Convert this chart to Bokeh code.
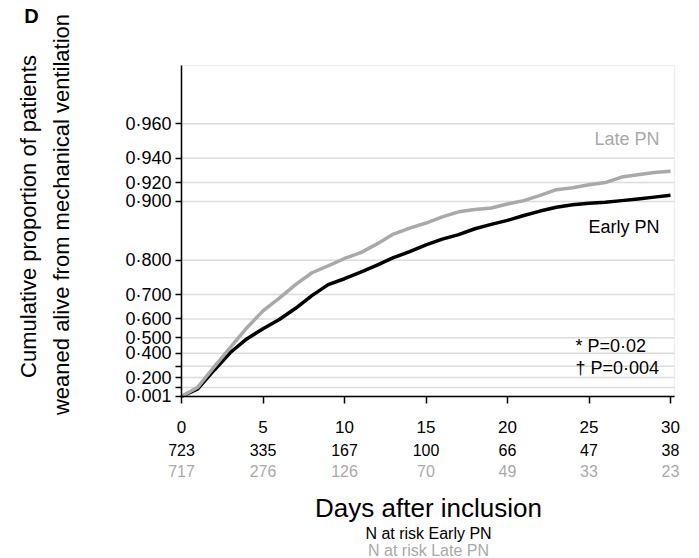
import numpy as np
from bokeh.plotting import figure
from bokeh.models import (FixedTicker, Label, LabelSet, ColumnDataSource, Range1d,
                          LinearAxis, BoxAnnotation)
from bokeh.core.properties import value
from bokeh.embed import file_html
from bokeh.resources import INLINE

# ---------------- data ----------------
days = list(range(31))
early_pn = [0.0, 0.086, 0.267, 0.405, 0.493, 0.551, 0.597, 0.647, 0.696, 0.733,
            0.751, 0.770, 0.788, 0.806, 0.819, 0.833, 0.844, 0.852, 0.862, 0.869,
            0.875, 0.882, 0.888, 0.893, 0.896, 0.898, 0.899, 0.901, 0.903, 0.905, 0.907]
late_pn = [0.0, 0.104, 0.295, 0.440, 0.555, 0.636, 0.687, 0.733, 0.768, 0.786,
           0.804, 0.817, 0.835, 0.853, 0.863, 0.871, 0.880, 0.887, 0.890, 0.892,
           0.897, 0.901, 0.907, 0.913, 0.915, 0.918, 0.920, 0.925, 0.927, 0.929, 0.930]
y_tick_props = [0.001, 0.1, 0.2, 0.3, 0.4, 0.5, 0.6, 0.7, 0.8, 0.9, 0.92, 0.94, 0.96]
y_tick_labels = ["0·001", "", "0·200", "", "0·400", "0·500", "0·600", "0·700",
                 "0·800", "0·900", "0·920", "0·940", "0·960"]
x_ticks = [0, 5, 10, 15, 20, 25, 30]
n_risk_early = [723, 335, 167, 100, 66, 47, 38]
n_risk_late = [717, 276, 126, 70, 49, 33, 23]

FONT = "Liberation Sans"
GREY = "#a9a9a9"
W, H = 699, 558

def tf(p):
    return -np.log(1.0 - np.asarray(p, dtype=float))

# plot-area geometry (pixels)
L, R, T, B = 181, 674, 65, 396
XPX = 16.3   # px per day
YPX = 84.7   # px per unit of -ln(1-p)
x_end = (R - L) / XPX
y_end = (B - T) / YPX

def dx(px):
    return (px - L) / XPX

def dy(py):
    return (B - py) / YPX

p = figure(width=W, height=H, output_backend="svg", toolbar_location=None,
           x_range=Range1d(dx(0), dx(W)), y_range=Range1d(dy(H), dy(0)),
           x_axis_type=None, y_axis_type=None,
           min_border=0, min_border_left=0, min_border_right=0,
           min_border_top=0, min_border_bottom=0)
p.background_fill_color = "white"
p.border_fill_color = "white"
p.outline_line_color = None

# plot-area outline (light grey top/right)
p.add_layout(BoxAnnotation(left=0, right=x_end, bottom=0, top=y_end,
                           fill_alpha=0, line_color="#c8c8c8", line_width=1.5,
                           level="underlay"))

yt = [float(v) for v in tf(y_tick_props)]

# horizontal grid lines at the y ticks
p.segment(x0=[0] * len(yt), x1=[x_end] * len(yt), y0=yt, y1=yt,
          line_color="#dcdcdc", line_width=1.5)

yaxis = LinearAxis(fixed_location=0, bounds=(0, y_end))
yaxis.ticker = FixedTicker(ticks=yt)
yaxis.major_label_overrides = {t: lab for t, lab in zip(yt, y_tick_labels)}
yaxis.major_label_text_font = FONT
yaxis.major_label_text_font_size = "18px"
yaxis.major_label_text_color = "black"
yaxis.major_tick_in = 0
yaxis.major_tick_out = 6
yaxis.minor_tick_line_color = None
yaxis.axis_line_width = 1.5
yaxis.major_tick_line_width = 1.5
yaxis.major_label_standoff = 4
p.add_layout(yaxis, "left")

xaxis = LinearAxis(fixed_location=0, bounds=(0, x_end))
xaxis.ticker = FixedTicker(ticks=x_ticks)
xaxis.major_label_text_font = FONT
xaxis.major_label_text_font_size = "17px"
xaxis.major_label_text_color = "black"
xaxis.major_tick_in = 0
xaxis.major_tick_out = 7
xaxis.minor_tick_line_color = None
xaxis.axis_line_width = 1.5
xaxis.major_tick_line_width = 1.5
xaxis.major_label_standoff = 17
p.add_layout(xaxis, "below")

p.line(days, tf(early_pn), line_color="black", line_width=3.5, line_join="round")
p.line(days, tf(late_pn), line_color=GREY, line_width=3.5, line_join="round")

def lab(x, y, text, size, color="black", align="center", baseline="middle",
        angle=0.0, style="normal"):
    p.add_layout(Label(x=x, y=y, text=text, text_font=FONT, text_font_size=size,
                       text_color=color, text_align=align, text_baseline=baseline,
                       angle=angle, text_font_style=style))

lab(dx(659), dy(138), "Late PN", "18px", GREY, align="right")
lab(dx(659), dy(226), "Early PN", "18px", align="right")
lab(dx(575), dy(345), "* P=0·02", "18px", align="left")
lab(dx(575), dy(367), "† P=0·004", "18px", align="left")

lab(dx(31), dy(15), "D", "20px", style="bold")
lab(dx(28), dy(216), "Cumulative proportion of patients", "22px",
    angle=np.pi / 2)
lab(dx(61), dy(214), "weaned alive from mechanical ventilation", "22px",
    angle=np.pi / 2)

src = ColumnDataSource(dict(x=x_ticks,
                            ye=[dy(449)] * len(x_ticks),
                            yl=[dy(470)] * len(x_ticks),
                            te=[str(v) for v in n_risk_early],
                            tl=[str(v) for v in n_risk_late]))
p.add_layout(LabelSet(x="x", y="ye", text="te", source=src, text_font=value(FONT),
                      text_font_size=value("16px"), text_color="black",
                      text_align="center", text_baseline="middle"))
p.add_layout(LabelSet(x="x", y="yl", text="tl", source=src, text_font=value(FONT),
                      text_font_size=value("16px"), text_color=GREY,
                      text_align="center", text_baseline="middle"))

lab(dx(428), dy(507), "Days after inclusion", "26px")
lab(dx(428), dy(533), "N at risk Early PN", "16px")
lab(dx(428), dy(550), "N at risk Late PN", "16px", GREY)

open("out.html", "w").write(file_html(p, INLINE))
